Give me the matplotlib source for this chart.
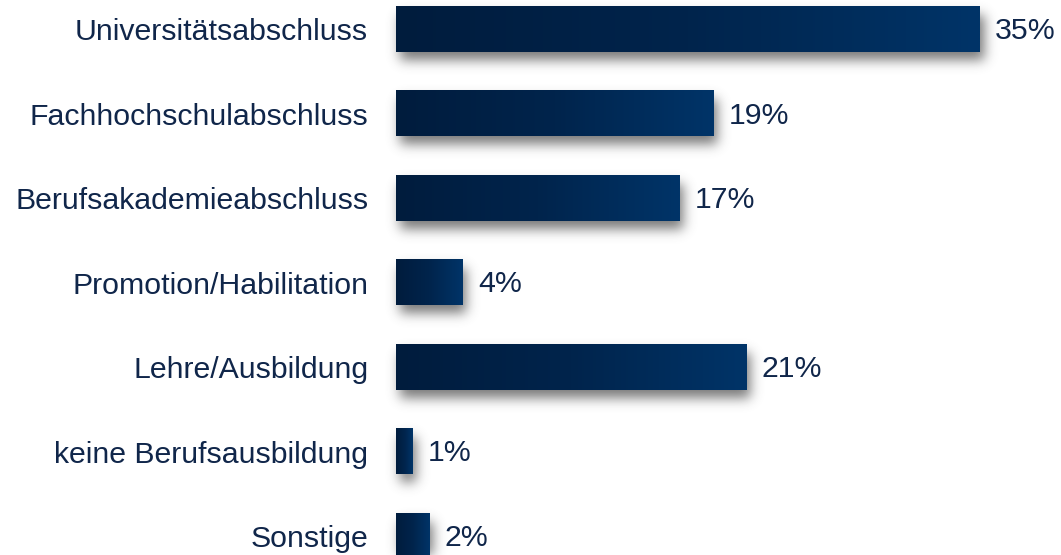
import numpy as np
import matplotlib
matplotlib.use("Agg")
import matplotlib.pyplot as plt
from matplotlib.colors import LinearSegmentedColormap

categories = ["Universitätsabschluss", "Fachhochschulabschluss", "Berufsakademieabschluss",
              "Promotion/Habilitation", "Lehre/Ausbildung", "keine Berufsausbildung", "Sonstige"]
values = [35, 19, 17, 4, 21, 1, 2]
value_labels = ["35%", "19%", "17%", "4%", "21%", "1%", "2%"]

W, H, DPI = 1061, 555, 100
fig = plt.figure(figsize=(W / DPI, H / DPI), dpi=DPI)
ax_left_px, ax_w_px = 396, 584
ax = fig.add_axes([ax_left_px / W, 0, ax_w_px / W, 1])
xmax = 35
ytop, ybot = -0.349, 6.224
ax.set_xlim(0, xmax)
ax.set_ylim(ybot, ytop)
bar_h = 0.533
text_color = "#10264a"
fs = 21.8

ppx = ax_w_px / xmax
ppy = H / (ybot - ytop)

# soft drop shadow
sx0, sx1 = -1.0, 40.0
nx = int((sx1 - sx0) * ppx)
ny = H
xs = sx0 + (np.arange(nx) + 0.5) / ppx
ys = ytop + (np.arange(ny) + 0.5) / ppy
mask = np.zeros((ny, nx))
dx, dy = 4 / ppx, 8 / ppy
for i, v in enumerate(values):
    inx = (xs >= 0 + dx) & (xs <= v + dx)
    iny = (ys >= i - bar_h / 2 + dy) & (ys <= i + bar_h / 2 + dy)
    mask[np.ix_(iny, inx)] = 1.0
sig = 6.0
k = np.arange(-20, 21)
kern = np.exp(-k**2 / (2 * sig**2)); kern /= kern.sum()
mask = np.apply_along_axis(lambda r: np.convolve(r, kern, mode="same"), 1, mask)
mask = np.apply_along_axis(lambda c: np.convolve(c, kern, mode="same"), 0, mask)
rgba = np.zeros((ny, nx, 4))
rgba[..., :3] = 0.3
rgba[..., 3] = mask * 0.75
ax.imshow(rgba, extent=(sx0, sx1, ybot, ytop), origin="upper", aspect="auto",
          interpolation="bilinear", zorder=1, clip_on=False)

cmap = LinearSegmentedColormap.from_list("g", ["#001c3d", "#00244c", "#003468"])
grad = np.linspace(0, 1, 256).reshape(1, -1)
for i, v in enumerate(values):
    ax.imshow(grad, cmap=cmap, extent=(0, v, i + bar_h / 2, i - bar_h / 2),
              aspect="auto", interpolation="bilinear", zorder=2, clip_on=False)
    ax.annotate(value_labels[i], xy=(v, i + 0.02), xytext=(11, 0), textcoords="offset points",
                ha="left", va="center", fontsize=fs, color=text_color,
                family="Liberation Sans", annotation_clip=False)

ax.set_xlim(0, xmax)
ax.set_ylim(ybot, ytop)
ax.set_yticks(range(len(categories)))
ax.set_yticklabels(categories, fontsize=fs, color=text_color, family="Liberation Sans")
ax.tick_params(axis="y", length=0, pad=20)
ax.set_xticks([])
for s in ax.spines.values():
    s.set_visible(False)
ax.patch.set_alpha(0)

fig.savefig("out.png", dpi=DPI)
